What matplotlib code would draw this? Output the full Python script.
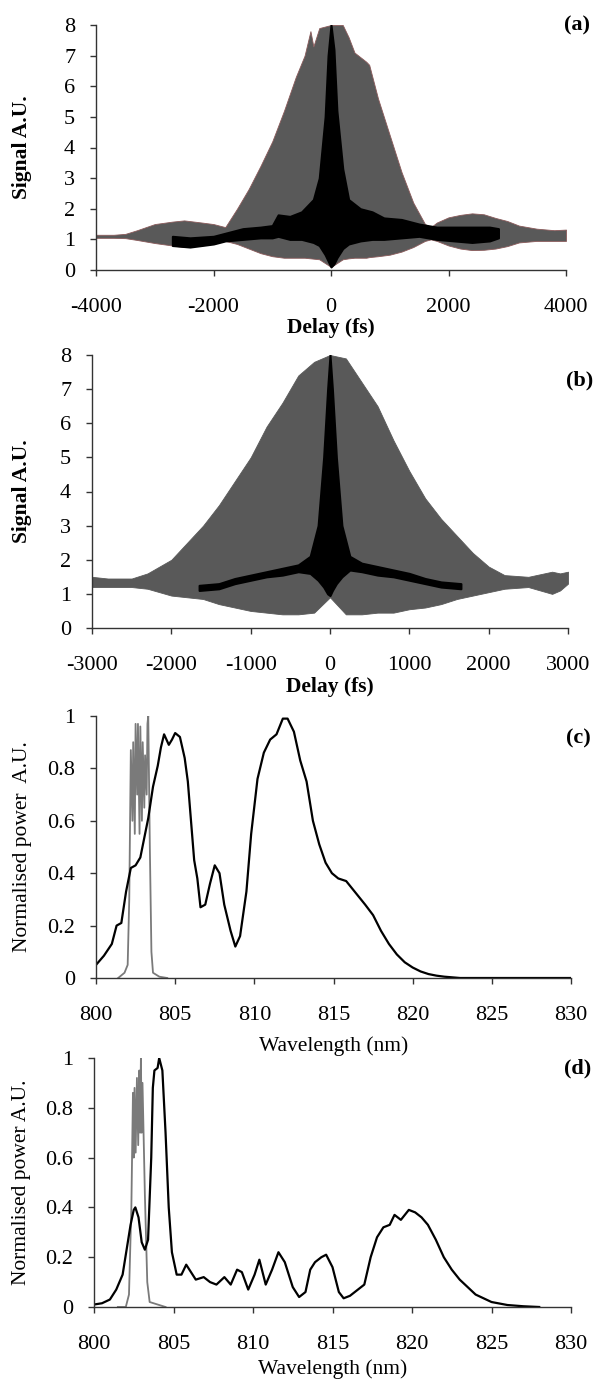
import numpy as np
import matplotlib
matplotlib.use("Agg")
import matplotlib.pyplot as plt

# Panel (a): interferometric autocorrelation envelopes (grey) and black trace
delay_a = [-4000, -3700, -3500, -3300, -3000, -2700, -2500, -2200, -2000, -1800,
           -1600, -1400, -1200, -1000, -800, -600, -450, -350, -300, -200,
           0, 200, 300, 400, 600, 650, 800, 1000, 1200, 1400,
           1600, 1700, 1800, 2000, 2200, 2400, 2600, 2800, 3000, 3200,
           3500, 3800, 4000]
grey_a_hi = [1.15, 1.15, 1.18, 1.3, 1.5, 1.58, 1.62, 1.55, 1.5, 1.4,
             2.0, 2.65, 3.4, 4.2, 5.2, 6.3, 7.0, 7.8, 7.3, 7.9,
             8.0, 8.0, 7.6, 7.1, 6.8, 6.7, 5.6, 4.4, 3.2, 2.2,
             1.5, 1.4, 1.55, 1.72, 1.8, 1.85, 1.82, 1.7, 1.6, 1.45,
             1.35, 1.3, 1.32]
grey_a_lo = [1.05, 1.05, 1.04, 0.98, 0.88, 0.8, 0.75, 0.8, 0.86, 0.95,
             0.85, 0.7, 0.55, 0.45, 0.4, 0.4, 0.4, 0.38, 0.37, 0.35,
             0.1, 0.35, 0.38, 0.4, 0.4, 0.42, 0.45, 0.5, 0.6, 0.75,
             0.95, 1.0, 0.95, 0.8, 0.7, 0.65, 0.66, 0.7, 0.78, 0.9,
             0.95, 0.95, 0.95]
delay_a_blk = [-2700, -2400, -2000, -1800, -1500, -1200, -1000, -900, -700, -500,
               -300, -200, -100, -50, 0, 50, 100, 200, 300, 500,
               700, 900, 1200, 1500, 1800, 2100, 2400, 2700, 2850]
blk_a_hi = [1.1, 1.05, 1.1, 1.2, 1.35, 1.4, 1.45, 1.8, 1.75, 1.9,
            2.3, 3.0, 5.0, 7.0, 8.0, 7.2, 5.2, 3.3, 2.3, 2.0,
            1.9, 1.7, 1.65, 1.5, 1.4, 1.4, 1.4, 1.4, 1.35]
blk_a_lo = [0.8, 0.75, 0.85, 0.95, 1.0, 1.05, 1.05, 1.1, 1.0, 1.0,
            0.9, 0.8, 0.5, 0.3, 0.1, 0.2, 0.4, 0.7, 0.85, 0.95,
            1.0, 1.0, 1.05, 1.1, 1.0, 0.95, 0.9, 0.95, 1.05]

# Panel (b)
delay_b = [-3000, -2800, -2500, -2300, -2000, -1800, -1600, -1400, -1200, -1000,
           -800, -600, -400, -200, 0, 200, 400, 600, 800, 1000,
           1200, 1400, 1600, 1800, 2000, 2200, 2500, 2800, 2900, 3000]
grey_b_hi = [1.5, 1.45, 1.45, 1.6, 2.0, 2.5, 3.0, 3.6, 4.3, 5.0,
             5.9, 6.6, 7.4, 7.8, 8.0, 7.9, 7.2, 6.5, 5.5, 4.6,
             3.8, 3.2, 2.7, 2.2, 1.8, 1.55, 1.5, 1.65, 1.6, 1.65]
grey_b_lo = [1.2, 1.2, 1.2, 1.15, 0.95, 0.9, 0.85, 0.7, 0.6, 0.5,
             0.45, 0.4, 0.4, 0.45, 0.9, 0.4, 0.4, 0.45, 0.45, 0.55,
             0.6, 0.7, 0.85, 0.95, 1.05, 1.15, 1.2, 1.0, 1.1, 1.3]
delay_b_blk = [-1650, -1400, -1200, -1000, -800, -600, -400, -250, -150, -80,
               -30, 0, 30, 80, 150, 250, 400, 600, 800, 1000,
               1200, 1400, 1650]
blk_b_hi = [1.25, 1.3, 1.45, 1.55, 1.65, 1.75, 1.85, 2.1, 3.0, 5.0,
            7.0, 8.0, 7.0, 5.0, 3.0, 2.1, 1.9, 1.8, 1.7, 1.6,
            1.45, 1.35, 1.3]
blk_b_lo = [1.1, 1.15, 1.3, 1.4, 1.5, 1.55, 1.65, 1.6, 1.4, 1.2,
            1.0, 0.95, 1.1, 1.3, 1.5, 1.7, 1.65, 1.55, 1.5, 1.4,
            1.3, 1.2, 1.15]

# Panel (c): spectra
wl_c = [800.0, 800.5, 801.0, 801.3, 801.6, 801.9, 802.2, 802.5, 802.8, 803.0,
        803.3, 803.6, 803.9, 804.1, 804.3, 804.6, 804.8, 805.0, 805.3, 805.6,
        805.8, 806.0, 806.2, 806.4, 806.6, 806.9, 807.2, 807.5, 807.8, 808.1,
        808.5, 808.8, 809.1, 809.5, 809.8, 810.2, 810.6, 811.0, 811.4, 811.6,
        811.8, 812.1, 812.5, 812.9, 813.3, 813.7, 814.1, 814.5, 814.9, 815.3,
        815.8, 816.2, 816.6, 817.0, 817.5, 818.0, 818.5, 819.0, 819.5, 820.0,
        820.5, 821.0, 821.5, 822.0, 823.0, 830.0]
pw_c = [0.05, 0.085, 0.13, 0.2, 0.21, 0.33, 0.42, 0.43, 0.46, 0.52,
        0.61, 0.73, 0.81, 0.88, 0.93, 0.89, 0.91, 0.935, 0.92, 0.84,
        0.75, 0.6, 0.45, 0.38, 0.27, 0.28, 0.36, 0.43, 0.40, 0.28,
        0.18, 0.12, 0.16, 0.33, 0.55, 0.76, 0.86, 0.91, 0.93, 0.96,
        0.99, 0.99, 0.94, 0.83, 0.75, 0.6, 0.51, 0.44, 0.40, 0.38,
        0.37, 0.34, 0.31, 0.28, 0.24, 0.18, 0.13, 0.09, 0.06, 0.04,
        0.025, 0.015, 0.009, 0.005, 0.0, 0.0]
wl_c_grey = [801.4, 801.8, 802.0, 802.1, 802.2, 802.3, 802.35, 802.45, 802.5, 802.6,
             802.65, 802.75, 802.8, 802.9, 802.95, 803.05, 803.1, 803.2, 803.25, 803.3,
             803.4, 803.5, 803.6, 804.0, 804.5]
pw_c_grey = [0.0, 0.02, 0.05, 0.3, 0.87, 0.6, 0.9, 0.55, 0.97, 0.7,
             0.97, 0.55, 0.96, 0.6, 0.9, 0.65, 0.85, 0.7, 0.97, 1.0,
             0.5, 0.1, 0.02, 0.005, 0.0]

# Panel (d)
wl_d = [800.0, 800.5, 801.0, 801.4, 801.8, 802.1, 802.3, 802.5, 802.6, 802.8,
        803.0, 803.2, 803.4, 803.6, 803.7, 803.8, 804.0, 804.1, 804.3, 804.5,
        804.7, 804.9, 805.2, 805.5, 805.8, 806.1, 806.4, 806.9, 807.3, 807.7,
        808.2, 808.6, 809.0, 809.3, 809.7, 810.1, 810.4, 810.8, 811.2, 811.6,
        812.0, 812.5, 812.9, 813.3, 813.6, 813.9, 814.3, 814.6, 815.0, 815.4,
        815.7, 816.1, 816.6, 817.0, 817.4, 817.8, 818.2, 818.6, 818.9, 819.3,
        819.8, 820.2, 820.6, 821.0, 821.5, 822.0, 822.5, 823.0, 823.5, 824.0,
        824.5, 825.0, 826.0, 827.0, 828.0]
pw_d = [0.01, 0.015, 0.03, 0.07, 0.13, 0.25, 0.33, 0.39, 0.40, 0.36,
        0.26, 0.23, 0.27, 0.60, 0.88, 0.95, 0.96, 1.0, 0.95, 0.7,
        0.4, 0.22, 0.13, 0.13, 0.17, 0.14, 0.11, 0.12, 0.10, 0.09,
        0.12, 0.09, 0.15, 0.14, 0.07, 0.13, 0.19, 0.09, 0.15, 0.22,
        0.18, 0.08, 0.04, 0.06, 0.15, 0.18, 0.20, 0.21, 0.16, 0.06,
        0.035, 0.045, 0.07, 0.09, 0.2, 0.28, 0.32, 0.33, 0.37, 0.35,
        0.39, 0.38, 0.36, 0.33, 0.27, 0.2, 0.15, 0.11, 0.08, 0.05,
        0.035, 0.02, 0.008, 0.003, 0.0]
wl_d_grey = [801.5, 802.0, 802.2, 802.35, 802.45, 802.5, 802.55, 802.62, 802.7, 802.78,
             802.85, 802.9, 802.95, 803.0, 803.05, 803.15, 803.2, 803.35, 803.5, 804.5]
pw_d_grey = [0.0, 0.0, 0.05, 0.4, 0.86, 0.6, 0.88, 0.62, 0.92, 0.65,
             0.95, 0.7, 1.0, 0.7, 0.9, 0.6, 0.45, 0.1, 0.02, 0.0]

plt.rcParams['font.family'] = ['Liberation Serif', 'DejaVu Serif']
plt.rcParams['font.size'] = 16
plt.rcParams['axes.unicode_minus'] = False

W, H = 594, 1380
fig = plt.figure(figsize=(W / 100, H / 100), dpi=100)

def make_axes(left, right, top, bottom):
    return fig.add_axes([left / W, 1 - bottom / H, (right - left) / W, (bottom - top) / H])

def style(ax, left, right, top, bottom, xlab, ylab, xlab_y, bold):
    for s in ['top', 'right']:
        ax.spines[s].set_visible(False)
    for s in ['left', 'bottom']:
        ax.spines[s].set_color('#333333')
        ax.spines[s].set_linewidth(1.0)
    ax.tick_params(axis='x', direction='out', length=4, width=1, color='#333333', pad=16, labelsize=16)
    ax.tick_params(axis='y', direction='out', length=4, width=1, color='#333333', pad=11, labelsize=16)
    w = 'bold' if bold else 'normal'
    ax.set_xlabel(xlab, fontweight=w, fontsize=15.5)
    ax.set_ylabel(ylab, fontweight=w, fontsize=15.5)
    ax.xaxis.label.set_va('center')
    ax.yaxis.label.set_va('center')
    ax.xaxis.set_label_coords(0.5, (bottom - xlab_y) / (bottom - top))
    ax.yaxis.set_label_coords((22 - left) / (right - left), 0.5)

# (a)
ax = make_axes(96, 566, 25, 270)
ax.fill_between(delay_a, grey_a_lo, grey_a_hi, color='#595959', edgecolor='#8a5a5a', linewidth=0.6)
ax.fill_between(delay_a_blk, blk_a_lo, blk_a_hi, color='black', linewidth=1.5, edgecolor='black')
ax.set_xlim(-4000, 4000)
ax.set_ylim(0, 8)
ax.set_xticks([-4000, -2000, 0, 2000, 4000])
ax.set_yticks(range(0, 9))
style(ax, 96, 566, 25, 270, 'Delay (fs)', 'Signal A.U.', 328, True)
fig.text(577 / W, 1 - 25 / H, '(a)', ha='center', va='center', fontweight='bold', fontsize=16)

# (b)
ax = make_axes(92, 568, 355, 628)
ax.fill_between(delay_b, grey_b_lo, grey_b_hi, color='#595959', linewidth=0.6, edgecolor='#595959')
ax.fill_between(delay_b_blk, blk_b_lo, blk_b_hi, color='black', linewidth=1.5, edgecolor='black')
ax.set_xlim(-3000, 3000)
ax.set_ylim(0, 8)
ax.set_xticks(range(-3000, 3001, 1000))
ax.set_yticks(range(0, 9))
style(ax, 92, 568, 355, 628, 'Delay (fs)', 'Signal A.U.', 687, True)
fig.text(580 / W, 1 - 380 / H, '(b)', ha='center', va='center', fontweight='bold', fontsize=16)

# (c)
ax = make_axes(96, 571, 716, 978)
ax.plot(wl_c_grey, pw_c_grey, color='#7a7a7a', linewidth=1.3)
ax.plot(wl_c, pw_c, color='black', linewidth=1.6)
ax.set_xlim(800, 830)
ax.set_ylim(0, 1)
ax.set_xticks(range(800, 831, 5))
ax.set_yticks([0, 0.2, 0.4, 0.6, 0.8, 1])
ax.set_yticklabels(['0', '0.2', '0.4', '0.6', '0.8', '1'])
style(ax, 96, 571, 716, 978, 'Wavelength (nm)', 'Normalised power  A.U.', 1046, False)
fig.text(578 / W, 1 - 738 / H, '(c)', ha='center', va='center', fontweight='bold', fontsize=16)

# (d)
ax = make_axes(94, 571, 1058, 1307)
ax.plot(wl_d_grey, pw_d_grey, color='#7a7a7a', linewidth=1.3)
ax.plot(wl_d, pw_d, color='black', linewidth=1.6)
ax.set_xlim(800, 830)
ax.set_ylim(0, 1)
ax.set_xticks(range(800, 831, 5))
ax.set_yticks([0, 0.2, 0.4, 0.6, 0.8, 1])
ax.set_yticklabels(['0', '0.2', '0.4', '0.6', '0.8', '1'])
style(ax, 94, 571, 1058, 1307, 'Wavelength (nm)', 'Normalised power A.U.', 1369, False)
fig.text(578 / W, 1 - 1068 / H, '(d)', ha='center', va='center', fontweight='bold', fontsize=16)

fig.savefig('out.png', dpi=100)
